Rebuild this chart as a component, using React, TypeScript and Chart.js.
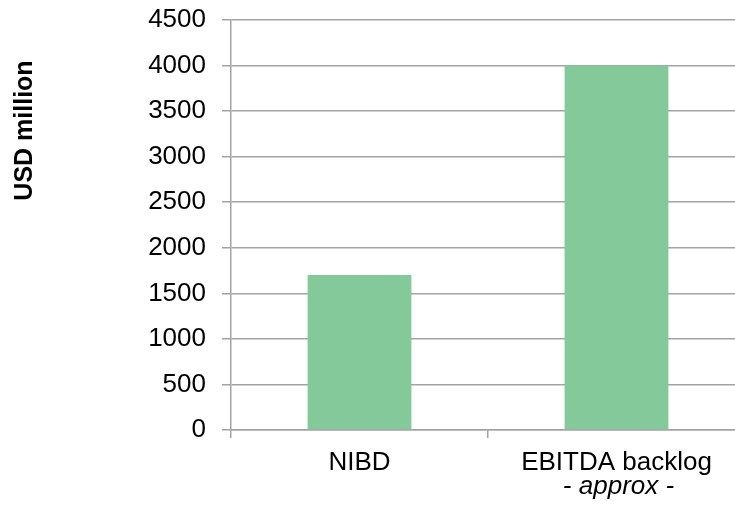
import React, { useEffect, useRef } from "react";
import { Chart, registerables } from "chart.js";

Chart.register(...registerables);

const categories: string[] = ["NIBD", "EBITDA backlog"];
const values: number[] = [1700, 4000];
const yTicks: number[] = [0, 500, 1000, 1500, 2000, 2500, 3000, 3500, 4000, 4500];
const yTitle = "USD million";
const noteText = "- approx -";
const noteCategoryIndex = 1;

const FONT = "'Liberation Sans', Arial, sans-serif";
const GRID = "#a3a3a3";
const BAR = "#84c99a";

// Rotated axis title and the italic note under the second category
const annotations = {
  id: "annotations",
  afterDraw(chart: any) {
    const { ctx, scales } = chart;
    const x = scales.x;
    ctx.save();
    ctx.fillStyle = "#000";

    ctx.font = `bold 25px ${FONT}`;
    ctx.textAlign = "center";
    ctx.textBaseline = "alphabetic";
    ctx.translate(32, 130.5);
    ctx.rotate(-Math.PI / 2);
    ctx.fillText(yTitle, 0, 0);
    ctx.setTransform(1, 0, 0, 1, 0, 0);

    ctx.font = `italic 26px ${FONT}`;
    ctx.textAlign = "center";
    ctx.textBaseline = "alphabetic";
    ctx.fillText(noteText, x.getPixelForValue(noteCategoryIndex) + 2, x.top + 63.5);
    ctx.restore();
  },
};

export default function App() {
  const canvasRef = useRef<HTMLCanvasElement>(null);

  useEffect(() => {
    if (!canvasRef.current) return;
    const chart = new Chart(canvasRef.current, {
      type: "bar",
      data: {
        labels: categories,
        datasets: [
          {
            data: values,
            backgroundColor: BAR,
            borderWidth: 0,
            categoryPercentage: 1,
            barPercentage: 0.404,
          },
        ],
      },
      options: {
        animation: false,
        responsive: true,
        maintainAspectRatio: false,
        devicePixelRatio: 1,
        layout: { padding: { top: 20, right: 15, bottom: 0, left: 0 } },
        plugins: {
          legend: { display: false },
          tooltip: { enabled: false },
          title: { display: false },
        },
        scales: {
          x: {
            grid: {
              display: true,
              offset: true,
              drawOnChartArea: false,
              drawTicks: true,
              tickLength: 8,
              color: GRID,
              lineWidth: 1.5,
            },
            border: { display: true, color: GRID, width: 1.5 },
            ticks: {
              color: "#000",
              font: { family: FONT, size: 26 },
              padding: 9,
              maxRotation: 0,
            },
            afterFit(scale: any) {
              scale.height = 75;
            },
          },
          y: {
            min: 0,
            max: 4500,
            afterBuildTicks(scale: any) {
              scale.ticks = yTicks.map((v) => ({ value: v }));
            },
            grid: {
              color: GRID,
              lineWidth: 1.5,
              tickLength: 9,
              drawTicks: true,
            },
            border: { display: true, color: GRID, width: 1.5 },
            ticks: {
              color: "#000",
              font: { family: FONT, size: 26 },
              padding: 16,
              callback: (v: any) => String(v),
            },
            afterFit(scale: any) {
              scale.width = 231;
              scale.paddingTop = 0;
              scale.paddingBottom = 0;
            },
          },
        },
      },
      plugins: [annotations],
    });
    return () => chart.destroy();
  }, []);

  return (
    <div
      style={{
        position: "fixed",
        left: 0,
        top: 0,
        width: 735,
        height: 505,
        overflow: "hidden",
        background: "#fff",
      }}
    >
      <div style={{ position: "relative", width: 760, height: 505 }}>
        <canvas ref={canvasRef} />
      </div>
    </div>
  );
}
